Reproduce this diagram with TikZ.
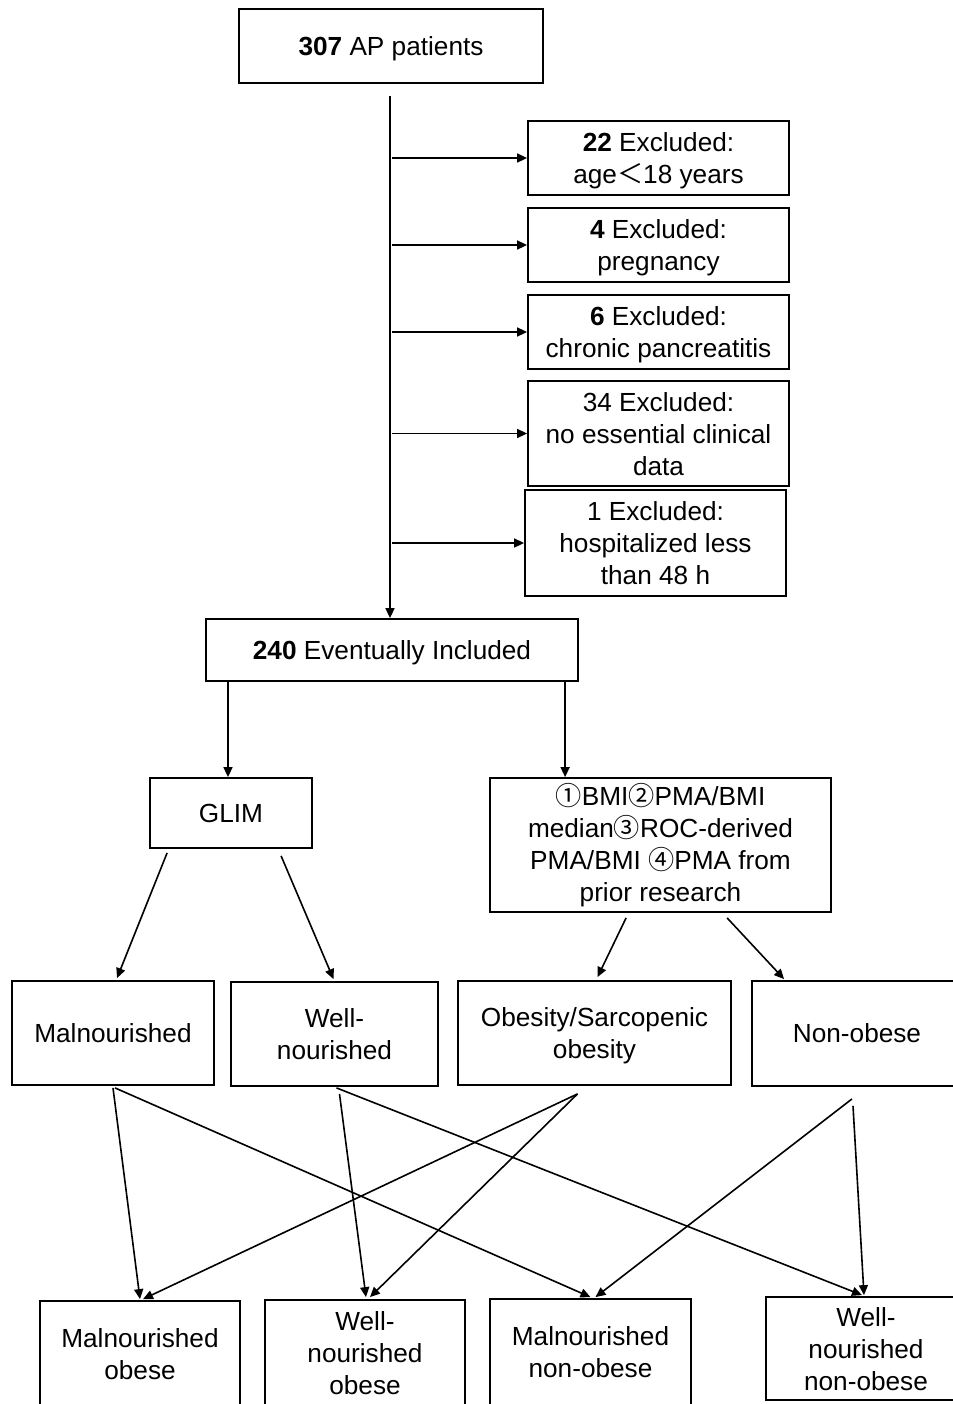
\documentclass[tikz,border=0pt]{standalone}
\usepackage{fontspec}
\setmainfont{Liberation Sans}
\newfontfamily\cjk{Noto Sans CJK SC}
\usetikzlibrary{arrows.meta,calc}
\newcommand\toprl{\rule{0pt}{12.5pt}}
\begin{document}
\begin{tikzpicture}[x=0.5pt,y=-0.5pt,
  box/.style={draw,line width=0.9pt,align=center,inner sep=0pt,
    font=\fontsize{13.1}{16}\selectfont,
    execute at begin node={\rule{0pt}{12.2pt}},
    execute at end node={\rule[-2.8pt]{0pt}{0pt}}},
  arr/.style={line width=0.8pt,-{Triangle[length=5pt,width=4.5pt]}}]
\useasboundingbox[fill=white] (0,0) rectangle (953,1404);
% boxes
\node[box,minimum width=152pt,minimum height=37pt] (top) at (391,46) {\textbf{307} AP patients};
\node[box,minimum width=130.5pt,minimum height=37pt] (ex1) at (658.5,158) {\toprl\textbf{22} Excluded:\\age{\cjk ＜}18 years};
\node[box,minimum width=130.5pt,minimum height=37pt] (ex2) at (658.5,245) {\toprl\textbf{4} Excluded:\\pregnancy};
\node[box,minimum width=130.5pt,minimum height=37pt] (ex3) at (658.5,332) {\toprl\textbf{6} Excluded:\\chronic pancreatitis};
\node[box,minimum width=130.5pt,minimum height=52.5pt] (ex4) at (658.5,433.5) {\toprl 34 Excluded:\\no essential clinical\\data};
\node[box,minimum width=130.5pt,minimum height=53pt] (ex5) at (655.5,543) {\toprl 1 Excluded:\\hospitalized less\\than 48 h};
\node[box,minimum width=186pt,minimum height=31pt] (inc) at (392,650) {\textbf{240} Eventually Included};
\node[box,minimum width=81pt,minimum height=35pt] (glim) at (231,813) {GLIM};
\node[box,minimum width=170.5pt,minimum height=67pt] (crit) at (660.5,845) {{\cjk ①}BMI{\cjk ②}PMA/BMI\\median{\cjk ③}ROC-derived\\PMA/BMI {\cjk ④}PMA from\\prior research};
\node[box,minimum width=101pt,minimum height=52pt] (mal) at (113,1033) {Malnourished};
\node[box,minimum width=103.5pt,minimum height=52pt] (well) at (334.5,1034) {\toprl Well-\\nourished};
\node[box,minimum width=136.5pt,minimum height=52pt] (obs) at (594.5,1033) {\toprl Obesity/Sarcopenic\\obesity};
\node[box,minimum width=105pt,minimum height=52.5pt] (nob) at (857,1033.5) {Non-obese};
\node[box,minimum width=100pt,minimum height=53pt] (mo) at (140,1354) {\toprl Malnourished\\obese};
\node[box,minimum width=100pt,minimum height=53pt] (wo) at (365,1353) {\toprl Well-\\nourished\\obese};
\node[box,minimum width=100.5pt,minimum height=53pt] (mn) at (590.5,1352) {\toprl Malnourished\\non-obese};
\node[box,minimum width=100pt,minimum height=51.5pt] (wn) at (866,1348.5) {\toprl Well-\\nourished\\non-obese};
% main line
\coordinate (m0) at ($(top.south)+(-1,12)$);
\coordinate (m1) at ($(top.south)+(1,0)$);
\draw[arr] (m0) -- (m0 |- inc.north);
\foreach \e in {ex1,ex2,ex3,ex4,ex5}
  \draw[arr] (m1 |- \e.west) -- (\e.west);
% from included
\coordinate (g0) at ($(glim.north)+(-3,0)$);
\draw[arr] (g0 |- inc.south) -- (g0);
\coordinate (c1) at ($(crit.north west)+(76,0)$);
\draw[arr] (c1 |- inc.south) -- (c1);
% to row 3
\draw[arr] ($(glim.south west)+(18,4)$) -- ($(mal.north)+(4,-2)$);
\draw[arr] ($(glim.south west)+(132,7)$) -- ($(well.north)+(-1,-2)$);
\draw[arr] ($(crit.south west)+(137,5)$) -- ($(obs.north)+(3,-3)$);
\draw[arr] ($(crit.south west)+(238,5)$) -- ($(nob.north west)+(33,-1)$);
% to row 4
\draw[arr] ($(mal.south)+(0,2)$) -- ($(mo.north)+(0,-1)$);
\draw[arr] ($(mal.south)+(2,2)$) -- ($(mn.north)+(0,-1)$);
\draw[arr] ($(well.south)+(5,7)$) -- ($(wo.north)+(1,-2)$);
\draw[arr] ($(well.south)+(2,1)$) -- ($(wn.north)+(-4,-1)$);
\draw[arr] ($(obs.south)+(-17,8)$) -- ($(mo.north)+(3,-1)$);
\draw[arr] ($(obs.south)+(-17,8)$) -- ($(wo.north)+(5,-2)$);
\draw[arr] ($(nob.south)+(-5,12)$) -- ($(mn.north)+(5,-1)$);
\draw[arr] ($(nob.south)+(-4,19)$) -- ($(wn.north)+(-2,-1)$);
\end{tikzpicture}
\end{document}
